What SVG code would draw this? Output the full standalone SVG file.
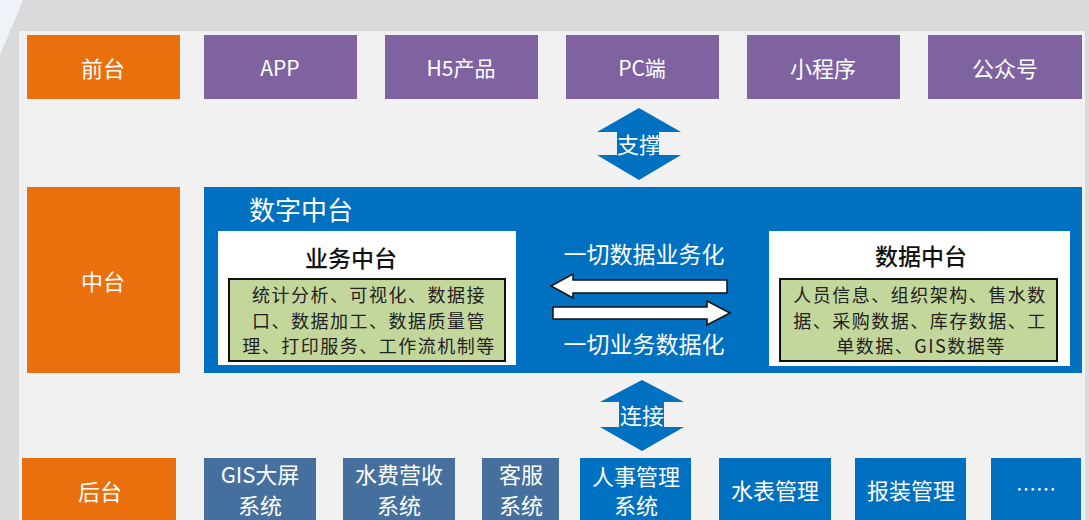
<svg xmlns="http://www.w3.org/2000/svg" width="1089" height="520" viewBox="0 0 1089 520">
<style>
.t{font-family:"Noto Sans CJK SC","Noto Sans",sans-serif;text-anchor:middle;dominant-baseline:central}
.w{fill:#fff}
.k{fill:#111;font-weight:500}
.g{fill:#222;font-size:18px;letter-spacing:1.5px}
.or{fill:#EA700D}
.pu{fill:#7F63A1}
.bl{fill:#0070C0}
.sb{fill:#45709E}
.gr{fill:#C3D69B;stroke:#111;stroke-width:2}
.wb{fill:#fff}
.arr{fill:#fff;stroke:#111;stroke-width:1.5}
</style>
<rect x="0" y="0" width="1089" height="520" fill="#DADADC"/>
<polygon points="0,0 23,0 0,55" fill="#EEF3F9"/>
<rect x="19" y="31" width="1066" height="489" fill="#F1F1F1"/>

<g id="front">
<rect class="or" x="27" y="35" width="153" height="64"/>
<text class="t w" x="103" y="67" font-size="22">前台</text>
</g>
<g id="app"><rect class="pu" x="204" y="35" width="153" height="64"/><text class="t w" x="280" y="67" font-size="21">APP</text></g>
<g id="h5"><rect class="pu" x="385" y="35" width="153" height="64"/><text class="t w" x="461" y="67" font-size="21">H5产品</text></g>
<g id="pc"><rect class="pu" x="566" y="35" width="153" height="64"/><text class="t w" x="642" y="67" font-size="21">PC端</text></g>
<g id="mini"><rect class="pu" x="747" y="35" width="153" height="64"/><text class="t w" x="823" y="67" font-size="22">小程序</text></g>
<g id="gzh"><rect class="pu" x="928" y="35" width="154" height="64"/><text class="t w" x="1005" y="67" font-size="22">公众号</text></g>

<g id="middle">
<rect class="or" x="27" y="187" width="153" height="186"/>
<text class="t w" x="103" y="280" font-size="22">中台</text>
</g>

<g id="digital">
<rect class="bl" x="204" y="187" width="878" height="186"/>
<text class="t w" x="301" y="208" font-size="26">数字中台</text>
</g>

<g id="biz">
<rect class="wb" x="218" y="231" width="298" height="134"/>
<text class="t k" x="351" y="257" font-size="23">业务中台</text>
<rect class="gr" x="229" y="279" width="276" height="82"/>
<text class="t g" x="369" y="294">统计分析、可视化、数据接</text>
<text class="t g" x="369" y="320">口、数据加工、数据质量管</text>
<text class="t g" x="369" y="345">理、打印服务、工作流机制等</text>
</g>

<g id="data">
<rect class="wb" x="769" y="231" width="301" height="135"/>
<text class="t k" x="921" y="255" font-size="23">数据中台</text>
<rect class="gr" x="780" y="279" width="277" height="82"/>
<text class="t g" x="920" y="294">人员信息、组织架构、售水数</text>
<text class="t g" x="920" y="320">据、采购数据、库存数据、工</text>
<text class="t g" x="921" y="345">单数据、GIS数据等</text>
</g>

<g id="connectors">
<text class="t w" x="644" y="253" font-size="23">一切数据业务化</text>
<polygon class="arr" points="551,286 573,274 573,280 727,280 727,293 573,293 573,298"/>
<polygon class="arr" points="730,313 707,301 707,307 553,307 553,319 707,319 707,325"/>
<text class="t w" x="644" y="343" font-size="23">一切业务数据化</text>

<polygon class="bl" points="639,108 681,132 659,132 659,155 681,155 639,180 597,155 617,155 617,132 597,132"/>
<text class="t w" x="639" y="143" font-size="22">支撑</text>

<polygon class="bl" points="642,380 684,402 664,402 664,427 684,427 642,451 600,427 619,427 619,402 600,402"/>
<text class="t w" x="642" y="414" font-size="22">连接</text>
</g>

<g id="back">
<rect class="or" x="22" y="458" width="154" height="70"/>
<text class="t w" x="100" y="490" font-size="22">后台</text>
</g>
<g id="gis"><rect class="sb" x="204" y="458" width="112" height="70"/><text class="t w" x="260" y="473" font-size="22">GIS大屏</text><text class="t w" x="260" y="504" font-size="22">系统</text></g>
<g id="fee"><rect class="sb" x="343" y="458" width="112" height="70"/><text class="t w" x="399" y="473" font-size="22">水费营收</text><text class="t w" x="399" y="504" font-size="22">系统</text></g>
<g id="kf"><rect class="sb" x="482" y="458" width="77" height="70"/><text class="t w" x="521" y="473" font-size="22">客服</text><text class="t w" x="521" y="504" font-size="22">系统</text></g>
<g id="hr"><rect class="bl" x="580" y="458" width="111" height="70"/><text class="t w" x="636" y="475" font-size="22">人事管理</text><text class="t w" x="636" y="504" font-size="22">系统</text></g>
<g id="meter"><rect class="bl" x="719" y="458" width="112" height="70"/><text class="t w" x="775" y="489" font-size="22">水表管理</text></g>
<g id="install"><rect class="bl" x="855" y="458" width="111" height="70"/><text class="t w" x="911" y="489" font-size="22">报装管理</text></g>
<g id="more"><rect class="bl" x="991" y="458" width="90" height="70"/><text class="t w" x="1036" y="488" font-size="20">……</text></g>
</svg>
